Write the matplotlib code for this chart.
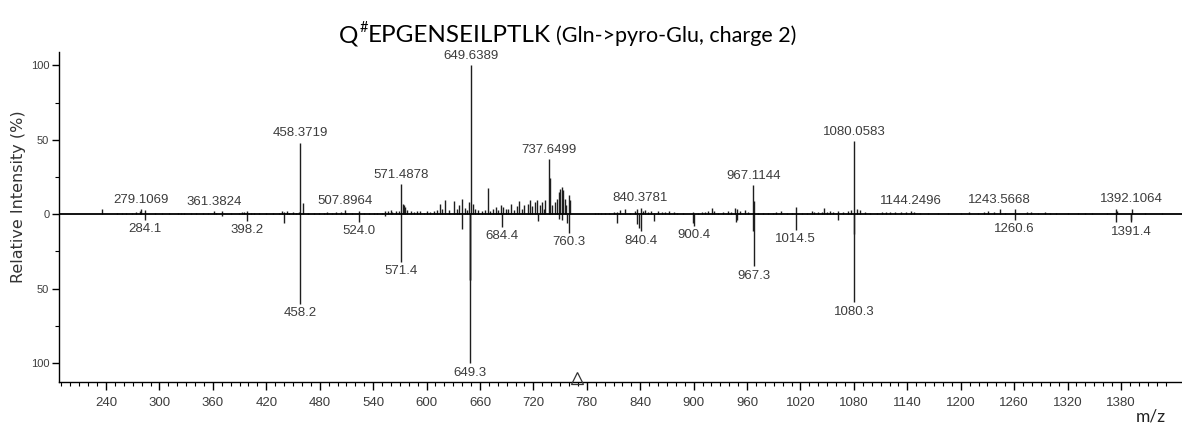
import matplotlib
matplotlib.use("Agg")
import matplotlib.pyplot as plt
from matplotlib.ticker import FixedLocator, FuncFormatter

# ---------------- data ----------------
upper_mz = [235.0, 252.0, 257.5, 263.0, 268.7, 273.6, 278.0, 279.1069, 284.2, 294.8, 303.0, 311.0,
            321.0, 324.7, 328.0, 335.8, 341.4, 348.8, 354.0, 361.3824, 363.8, 370.5, 380.0, 389.9,
            392.9, 395.5, 398.0, 403.0, 406.7, 412.0, 420.0, 428.0, 434.6, 438.0, 440.0, 442.8,
            445.8, 449.5, 453.3, 456.2, 458.3719, 460.7, 466.4, 473.8, 479.4, 485.0, 488.7, 494.3,
            498.8, 503.7, 507.8964, 510.0, 516.7, 524.1, 529.7, 535.3, 540.9, 544.6, 550.2, 553.2,
            556.9, 559.6, 561.4, 565.2, 568.9, 571.4878, 573.3, 574.5, 576.3, 578.2, 582.0, 585.6,
            589.4, 593.0, 596.8, 600.5, 604.3, 608.0, 611.7, 615.5, 617.3, 621.0, 624.8, 630.4,
            634.0, 636.7, 639.6, 642.7, 645.3, 648.0, 649.6389, 652.0, 654.6, 657.6, 662.0, 665.9,
            668.7, 671.4, 675.0, 677.7, 680.7, 683.7, 686.3, 689.3, 691.9, 694.9, 698.6, 701.1,
            703.8, 706.7, 709.8, 713.5, 716.2, 718.7, 721.7, 724.3, 727.2, 729.9, 732.0, 733.6,
            737.6499, 738.6, 741.1, 744.0, 746.7, 748.5, 750.4, 752.3, 753.7, 755.3, 757.1, 759.8,
            761.6, 789.0, 792.6, 796.0, 800.0, 804.5, 810.2, 814.0, 817.8, 823.3, 829.0, 833.8,
            836.4, 840.3781, 843.0, 845.7, 848.6, 852.4, 855.0, 859.8, 864.3, 868.1, 872.5, 877.4,
            881.0, 888.6, 899.8, 905.4, 909.0, 912.9, 916.6, 920.3, 923.3, 927.8, 933.4, 939.0,
            942.0, 946.4, 948.3, 952.0, 957.6, 960.6, 967.1144, 968.3, 972.5, 978.1, 983.7, 989.3,
            993.0, 997.9, 1004.5, 1010.0, 1015.0, 1021.5, 1027.1, 1032.7, 1035.7, 1040.2, 1043.9,
            1046.9, 1049.5, 1053.3, 1056.9, 1062.5, 1068.1, 1072.9, 1076.7, 1080.0583, 1083.0,
            1086.8, 1092.4, 1098.0, 1105.4, 1111.0, 1116.5, 1120.4, 1126.0, 1133.4, 1138.9,
            1144.2496, 1147.5, 1153.9, 1163.2, 1174.4, 1185.5, 1200.4, 1209.8, 1219.1, 1225.8,
            1231.0, 1237.0, 1243.5668, 1250.0, 1261.0, 1274.0, 1279.0, 1287.0, 1294.5, 1300.0,
            1307.5, 1321.0, 1332.0, 1339.0, 1347.0, 1364.0, 1374.0, 1376.0, 1392.1064, 1407.0,
            1425.5]
upper_int = [3.4, 1.0, 0.8, 1.0, 1.0, 1.8, 2.5, 3.5, 3.0, 0.7, 0.5, 0.5,
             0.7, 1.0, 0.7, 1.1, 0.7, 1.0, 0.7, 2.0, 1.1, 2.0, 0.5, 1.1,
             1.5, 1.5, 2.0, 1.1, 0.7, 0.5, 0.5, 0.5, 1.1, 2.0, 1.5, 2.2,
             1.1, 1.5, 0.7, 1.3, 48.0, 7.5, 0.7, 0.7, 0.9, 0.9, 1.3, 0.9,
             1.3, 1.3, 2.6, 1.0, 1.0, 2.5, 0.9, 0.9, 0.9, 1.1, 1.1, 2.0,
             2.0, 2.7, 1.8, 2.2, 2.2, 20.0, 7.0, 6.0, 5.0, 3.0, 2.5, 1.5,
             2.0, 2.2, 1.0, 2.5, 1.3, 2.5, 2.7, 7.2, 3.5, 9.8, 2.7, 8.7,
             3.8, 6.0, 10.0, 4.3, 2.7, 8.3, 100.0, 7.0, 3.8, 3.0, 2.0, 2.7,
             17.7, 2.0, 3.8, 5.0, 3.0, 6.5, 5.0, 3.8, 3.4, 7.2, 2.7, 5.6,
             8.7, 3.8, 6.0, 7.2, 9.4, 5.6, 8.3, 9.4, 6.0, 8.3, 3.8, 9.4,
             37.0, 24.4, 6.0, 8.3, 10.5, 15.0, 17.2, 18.3, 16.0, 10.5, 6.0, 12.7,
             9.4, 0.8, 0.9, 0.8, 0.7, 0.9, 1.5, 1.8, 2.7, 3.4, 1.1, 2.2,
             3.4, 4.5, 2.2, 2.7, 1.8, 2.2, 1.1, 2.2, 1.8, 1.8, 2.2, 1.8,
             1.1, 0.9, 1.8, 1.1, 1.5, 1.8, 2.2, 4.0, 2.2, 1.1, 1.8, 2.2,
             1.8, 4.0, 3.4, 2.2, 2.7, 1.5, 19.5, 9.0, 1.1, 1.1, 0.7, 1.1,
             1.8, 2.2, 0.7, 1.1, 4.8, 1.1, 0.7, 2.5, 1.6, 1.8, 1.8,
             4.0, 1.8, 2.2, 1.6, 2.2, 1.8, 2.5, 2.9, 49.0, 3.4,
             2.9, 1.6, 1.1, 1.1, 1.3, 1.3, 1.6, 1.3, 1.6, 1.8,
             2.5, 1.6, 1.1, 0.9, 0.9, 0.9, 0.7, 1.3, 0.9, 1.8,
             2.2, 1.8, 3.4, 1.1, 3.4, 1.6, 1.8, 1.1, 1.8, 1.1,
             0.9, 0.9, 1.1, 1.1, 0.9, 0.9, 3.4, 2.5, 3.8, 0.9,
             0.9]

lower_mz = [284.1, 370.5, 398.2, 440.0, 458.2, 524.0, 553.2, 571.4, 639.6, 648.3, 648.8, 649.3,
            684.4, 725.5, 749.0, 752.5, 757.5, 760.3, 814.0, 836.0, 839.0, 840.4, 855.0, 899.8,
            900.4, 947.5, 948.5, 966.6, 967.3, 1014.5, 1062.5, 1079.8, 1080.3, 1260.6, 1374.0,
            1390.8, 1391.4]
lower_int = [3.8, 1.5, 4.3, 5.6, 60.0, 4.9, 1.5, 32.0, 9.6, 44.0, 44.0, 100.0,
             8.3, 4.7, 3.0, 4.0, 6.0, 12.5, 5.6, 6.7, 9.0, 11.5, 4.5, 6.0,
             7.8, 5.0, 4.0, 11.0, 35.0, 10.5, 3.8, 13.0, 59.0, 3.8, 4.9,
             4.0, 5.4]

upper_labels = ["279.1069", "361.3824", "458.3719", "507.8964", "571.4878", "649.6389", "737.6499",
                "840.3781", "967.1144", "1080.0583", "1144.2496", "1243.5668", "1392.1064"]
lower_labels = ["284.1", "398.2", "458.2", "524.0", "571.4", "649.3", "684.4", "760.3", "840.4",
                "900.4", "967.3", "1014.5", "1080.3", "1260.6", "1391.4"]

x_major = [240, 300, 360, 420, 480, 540, 600, 660, 720, 780, 840, 900, 960, 1020, 1080, 1140,
           1200, 1260, 1320, 1380]
y_major = [-100, -50, 0, 50, 100]
y_minor = [-75, -25, 25, 75]
precursor_mz = 769.0

title_main = "Q"
title_sup = "#"
title_rest = "EPGENSEILPTLK"
title_note = "(Gln->pyro-Glu, charge 2)"

# ---------------- figure ----------------
W, H = 1182, 430
fig = plt.figure(figsize=(W / 100, H / 100), dpi=100)
ax = fig.add_axes([59 / W, 48 / H, 1 - 59 / W, (382 - 52) / H])

line_col = "#1e1e1e"
txt_col = "#3c3c3c"
ax.vlines(upper_mz, 0, upper_int, color=line_col, lw=1.0)
ax.vlines(lower_mz, 0, [-v for v in lower_int], color=line_col, lw=1.0)
ax.axhline(0, color="black", lw=1.3, zorder=3)

ax.set_xlim(187.2, 1448.5)
ax.set_ylim(-112.6, 108.9)

for s in ["top", "right"]:
    ax.spines[s].set_visible(False)
for s in ["left", "bottom"]:
    ax.spines[s].set_linewidth(1.0)
    ax.spines[s].set_color("black")

ax.xaxis.set_major_locator(FixedLocator(x_major))
ax.xaxis.set_minor_locator(FixedLocator(list(range(190, 1440, 10))))
ax.yaxis.set_major_locator(FixedLocator(y_major))
ax.yaxis.set_minor_locator(FixedLocator(y_minor))
ax.yaxis.set_major_formatter(FuncFormatter(lambda v, p: f"{abs(int(v))}"))
ax.tick_params(axis="x", which="major", length=6, width=1, labelsize=9.5, labelcolor=txt_col, pad=5)
ax.tick_params(axis="x", which="minor", length=3, width=0.8)
ax.tick_params(axis="y", which="major", length=5, width=1, labelsize=8, labelcolor=txt_col, pad=2)
ax.tick_params(axis="y", which="minor", length=3, width=0.8)
for lab in ax.get_xticklabels() + ax.get_yticklabels():
    lab.set_family("Liberation Sans")

# peak annotations
for lab in upper_labels:
    mz = float(lab)
    i = min(range(len(upper_mz)), key=lambda k: abs(upper_mz[k] - mz))
    ax.annotate(lab, (mz, upper_int[i]), xytext=(0, 2.5), textcoords="offset points",
                ha="center", va="bottom", fontsize=9.5, color=txt_col, family="Liberation Sans")
for lab in lower_labels:
    mz = float(lab)
    i = min(range(len(lower_mz)), key=lambda k: abs(lower_mz[k] - mz))
    ax.annotate(lab, (mz, -lower_int[i]), xytext=(0, -2.5), textcoords="offset points",
                ha="center", va="top", fontsize=9.5, color=txt_col, family="Liberation Sans")

# precursor marker
ax.plot([precursor_mz], [-109.8], marker="^", ms=8, mfc="none", mec="#333333", mew=0.9,
        clip_on=False, zorder=4)

# axis labels
fig.text(19 / W, 1 - 197 / H, "Relative Intensity (%)", rotation=90, ha="center", va="center",
         fontsize=11.5, color="#333333", family="DejaVu Sans")
fig.text(1151 / W, 1 - 416 / H, "m/z", ha="center", va="center", fontsize=12.5, color="#222222",
         family="Lato")

# title built from pieces
fig.canvas.draw()
r = fig.canvas.get_renderer()
base_y = 1 - 42 / H
t1 = fig.text(0, base_y, title_main, fontsize=17.5, family="Lato", va="baseline", color="black")
t2 = fig.text(0, base_y + 10 / H, title_sup, fontsize=10.5, family="Lato", va="baseline", color="black")
t3 = fig.text(0, base_y, title_rest, fontsize=17.5, family="Lato", va="baseline", color="black")
t4 = fig.text(0, base_y, title_note, fontsize=15.5, family="Lato", va="baseline", color="black")
widths = [t.get_window_extent(r).width for t in (t1, t2, t3, t4)]
gaps = [0.5, 0.5, 5]
total = sum(widths) + sum(gaps)
x = 568 - total / 2
for t, w, g in zip((t1, t2, t3, t4), widths, gaps + [0]):
    t.set_x(x / W)
    x += w + g

fig.savefig("out.png", dpi=100)
